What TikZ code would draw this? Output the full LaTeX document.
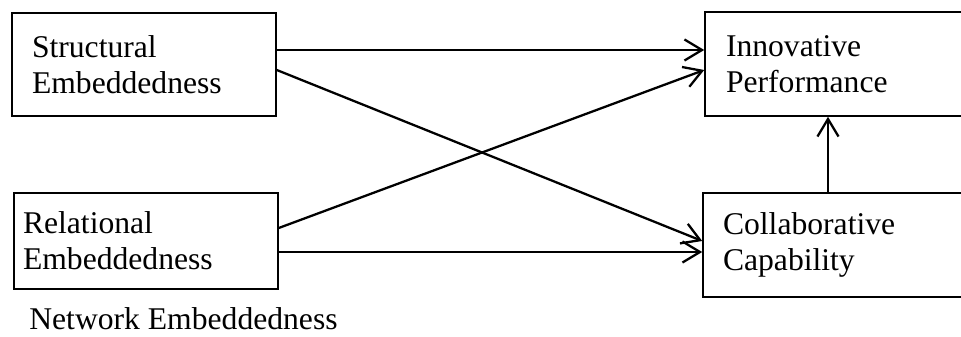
\documentclass[tikz,border=0pt]{standalone}
\usepackage{fontspec}
\setmainfont{Liberation Serif}
\usetikzlibrary{arrows.meta, positioning, calc}
\tikzset{
    pathdiagram/.style={x=0.02cm, y=-0.02cm, font=\fontsize{18}{20.5}\selectfont},
    box/.style={draw, line width=0.9pt, align=left, inner xsep=0.4cm, inner ysep=0pt, text width=4.48cm},
    link/.style={-{Straight Barb[length=10pt, width=12pt]}, line width=1.3pt},
    % caption under the left column
    caption/.style={anchor=base west, inner sep=0pt},
}
\begin{document}
\begin{tikzpicture}[pathdiagram]
        \useasboundingbox (0,0) rectangle (961,337);
        \node[box, minimum height=2.06cm]                                         (se) at (144,64.5) {Structural\\Embeddedness};
        \node[box, minimum height=1.92cm, inner xsep=0.18cm, text width=4.92cm]   (re) at (146,241)  {Relational\\Embeddedness};
        \node[box, minimum height=2.08cm, inner xsep=0.42cm, text width=4.36cm]   (ip) at (835,64)   {Innovative\\Performance};
        \node[box, minimum height=2.08cm, text width=4.44cm]                      (cc) at (834,245)  {Collaborative\\Capability};
        \node[caption] (ne) at (29,330) {Network Embeddedness};

        \draw[link] (se.east |- 0,50)  -- (ip.west |- 0,50);
        \draw[link] (se.east |- 0,70)  -- (cc.west |- 0,241);
        \draw[link] (re.east |- 0,228) -- (ip.west |- 0,70);
        \draw[link] (re.east |- 0,252) -- (cc.west |- 0,252);
        \draw[link] (cc.north -| 828,0) -- (ip.south -| 828,0);
    \end{tikzpicture}
\end{document}
